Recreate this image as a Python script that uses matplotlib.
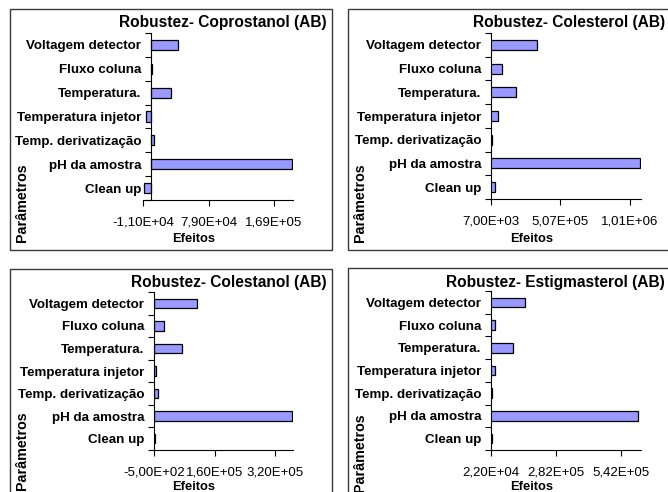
import numpy as np
import matplotlib.pyplot as plt
from matplotlib.patches import Rectangle

plt.rcParams['font.family'] = ['Liberation Sans', 'DejaVu Sans']

W, H = 668, 492

categories = ['Voltagem detector', 'Fluxo coluna', 'Temperatura.', 'Temperatura injetor',
              'Temp. derivatização', 'pH da amostra', 'Clean up']

titles = ['Robustez- Coprostanol (AB)', 'Robustez- Colesterol (AB)',
          'Robustez- Colestanol (AB)', 'Robustez- Estigmasterol (AB)']

# effects, same order as categories
coprostanol = [3.7e4, 1.5e3, 2.7e4, -7.0e3, 4.0e3, 1.94e5, -9.3e3]
colesterol = [3.4e5, 8.7e4, 1.9e5, 5.7e4, 1.5e4, 1.08e6, 3.6e4]
colestanol = [1.13e5, 2.5e4, 7.3e4, 6.0e3, 9.7e3, 3.64e5, 2.0e3]
estigmasterol = [1.59e5, 3.8e4, 1.11e5, 3.8e4, 2.6e4, 6.1e5, 2.7e4]

x_limits = [(-1.1e4, 1.95e5), (7e3, 1.087e6), (-5e2, 3.67e5), (2.2e4, 6.22e5)]
x_ticks = [[-1.1e4, 7.9e4, 1.69e5], [7e3, 5.07e5, 1.007e6],
           [-5e2, 1.6e5, 3.2e5], [2.2e4, 2.82e5, 5.42e5]]
x_ticklabels = [['-1,10E+04', '7,90E+04', '1,69E+05'],
                ['7,00E+03', '5,07E+05', '1,01E+06'],
                ['-5,00E+02', '1,60E+05', '3,20E+05'],
                ['2,20E+04', '2,82E+05', '5,42E+05']]

series = [coprostanol, colesterol, colestanol, estigmasterol]

# layout in pixels (left, top, right, bottom)
frames = [(10, 9, 332, 250), (348, 9, 700, 250), (10, 269, 332, 520), (348, 268, 700, 520)]
plot_areas = [(143, 33, 293, 200), (491, 33, 641, 199), (154, 292, 293, 450), (491, 291, 641, 450)]
title_y = [22, 22, 282, 282]
efeitos_y = [239, 239, 487, 487]
param_top = [163, 163, 411, 413]


def fig_box(x0, y0, x1, y1):
    return [x0 / W, 1 - y1 / H, (x1 - x0) / W, (y1 - y0) / H]


fig = plt.figure(figsize=(W / 100, H / 100), dpi=100)

y_pos = np.arange(len(categories))

for i in range(4):
    fx0, fy0, fx1, fy1 = frames[i]
    fig.patches.append(Rectangle((fx0 / W, 1 - fy1 / H), (fx1 - fx0) / W, (fy1 - fy0) / H,
                                 transform=fig.transFigure, fill=False,
                                 edgecolor='#3a3a3a', linewidth=1.0))

    ax = fig.add_axes(fig_box(*plot_areas[i]))
    ax.barh(y_pos, series[i], height=0.42, color='#9999ff', edgecolor='black', linewidth=0.9)
    ax.set_ylim(len(categories) - 0.5, -0.5)
    ax.set_xlim(*x_limits[i])

    for side in ['top', 'right']:
        ax.spines[side].set_visible(False)
    ax.spines['left'].set_position(('data', max(0, x_limits[i][0])))
    ax.spines['left'].set_linewidth(0.8)
    ax.spines['bottom'].set_linewidth(0.8)

    ax.set_yticks(y_pos)
    ax.set_yticklabels(categories, fontweight='bold', fontsize=9.6)
    ax.set_yticks(np.arange(-0.5, len(categories)), minor=True)
    ax.tick_params(axis='y', which='major', length=0, pad=7)
    ax.tick_params(axis='y', which='minor', length=4, width=0.8, direction='out')

    ax.set_xticks(x_ticks[i])
    ax.set_xticklabels(x_ticklabels[i], fontsize=9.5)
    ax.tick_params(axis='x', which='major', length=4, width=0.8, direction='out', pad=8)

    fig.text((fx0 + 317) / W, 1 - title_y[i] / H, titles[i], ha='right', va='center',
             fontsize=11.2, fontweight='bold')
    fig.text((fx0 + 184) / W, 1 - efeitos_y[i] / H, 'Efeitos', ha='center', va='center',
             fontsize=9.3, fontweight='bold')
    fig.text((fx0 + 12) / W, 1 - param_top[i] / H, 'Parâmetros', ha='center', va='top',
             rotation=90, fontsize=10.3, fontweight='bold')

fig.savefig('out.png', dpi=100)
